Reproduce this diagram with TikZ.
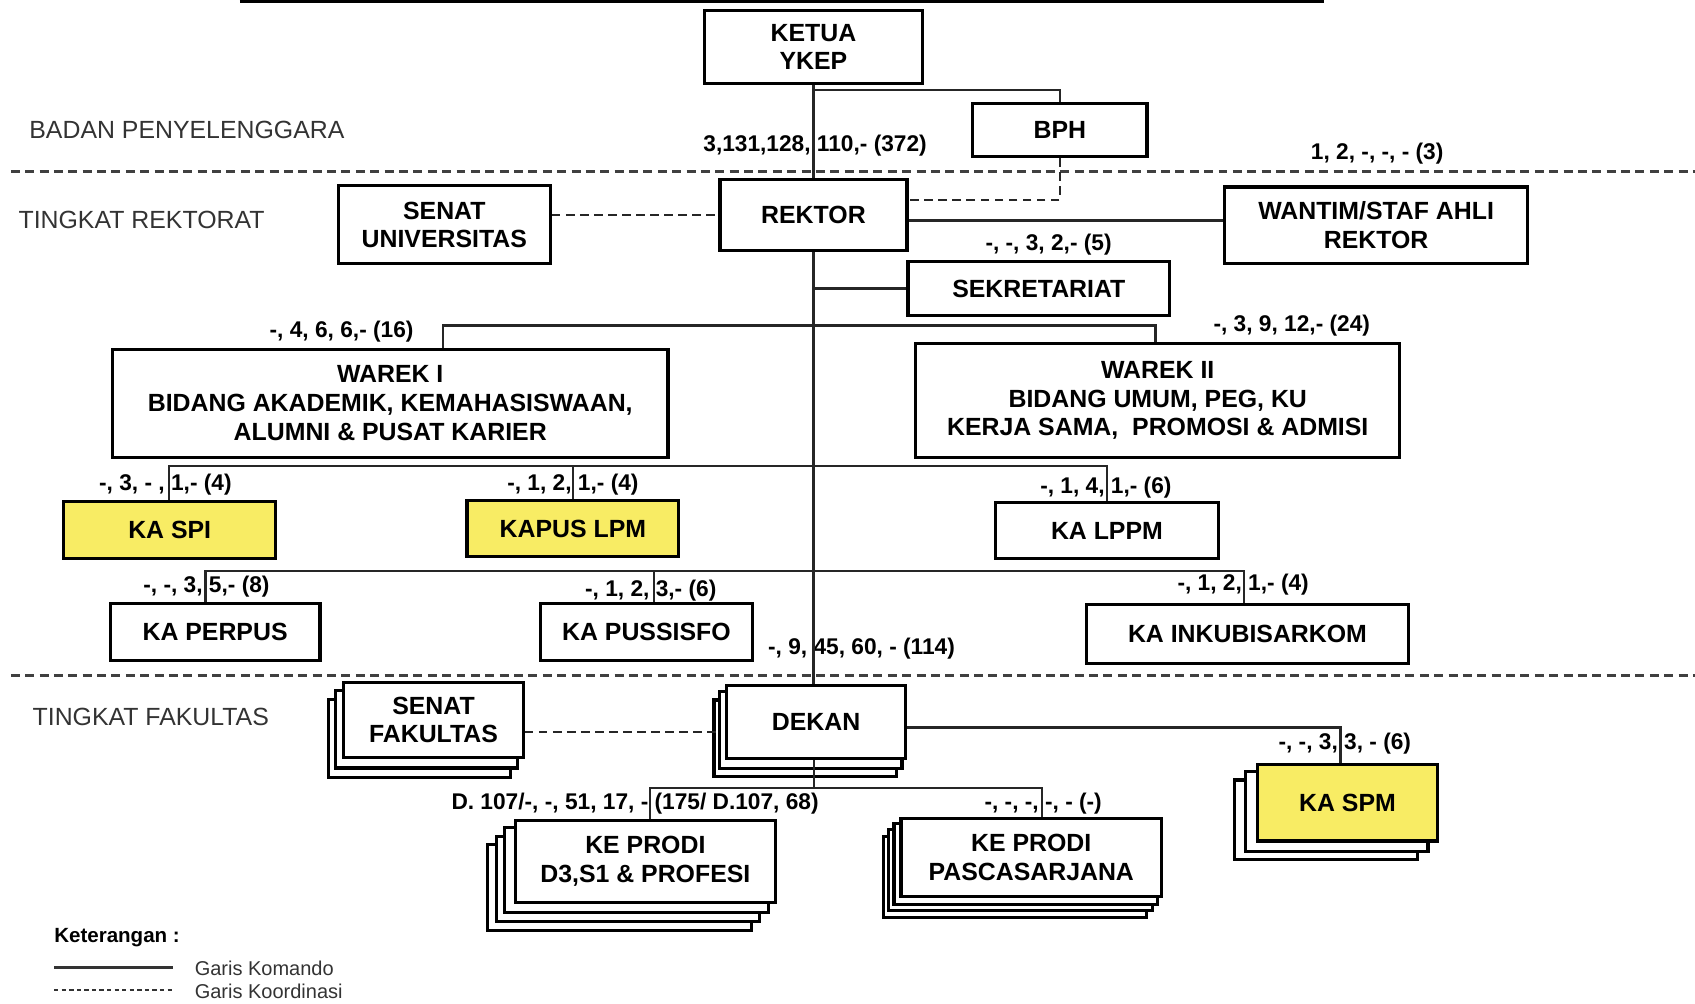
\documentclass[tikz,border=0pt]{standalone}
\usepackage{fontspec}
\setmainfont{Liberation Sans}
\usetikzlibrary{backgrounds}
\definecolor{kuning}{RGB}{248,236,100}
\begin{document}
\begin{tikzpicture}[x=1pt,y=-1pt,
  box/.style={draw=black, line width=2.9pt, fill=white, inner sep=0pt, align=center,
              font=\fontsize{23}{26.5}\selectfont\bfseries},
  stk/.style={draw=black, line width=2.9pt, fill=white},
  num/.style={inner sep=0pt, font=\fontsize{21}{24}\selectfont\bfseries},
  lvl/.style={inner sep=0pt, anchor=west, text=black!80, font=\fontsize{23}{27}\selectfont},
  leg/.style={inner sep=0pt, anchor=west, text=black!80, font=\fontsize{18.5}{21}\selectfont},
  cmd/.style={draw=black!85, line width=2.1pt},
  koord/.style={draw=black!85, line width=2.2pt, dash pattern=on 8pt off 5pt},
  sepline/.style={draw=black!75, line width=2.6pt, dash pattern=on 8.3pt off 5pt}
]
\useasboundingbox (0,0) rectangle (1568,928);

% top rule and level separators
\coordinate (t1) at (222,1.5); \coordinate (t2) at (1225,1.5);
\draw[line width=3pt] (t1) -- (t2);
\coordinate (s1a) at (10,159); \coordinate (s1b) at (1568,159);
\coordinate (s2a) at (10,625); \coordinate (s2b) at (1568,625);
\draw[sepline] (s1a) -- (s1b);
\draw[sepline] (s2a) -- (s2b);

% level labels
\node[lvl] (badan) at (27,120) {BADAN PENYELENGGARA};
\node[lvl] (trek) at (17,203) {TINGKAT REKTORAT};
\node[lvl] (tfak) at (30,663) {TINGKAT FAKULTAS};

% boxes
\node[box, minimum width=202pt, minimum height=68pt] (ketua) at (752.5,43.5) {KETUA\\YKEP};
\node[box, minimum width=161pt, minimum height=49pt] (bph) at (980.5,120.5) {BPH};
\node[box, minimum width=173pt, minimum height=66pt] (rektor) at (752.5,199) {REKTOR};
\node[box, minimum width=196pt, minimum height=72pt] (senatu) at (411,208) {SENAT\\UNIVERSITAS};
\node[box, minimum width=280pt, minimum height=71pt] (wantim) at (1273,208.5) {WANTIM/STAF AHLI\\REKTOR};
\node[box, minimum width=242pt, minimum height=50pt] (sekre) at (961,267) {SEKRETARIAT};
\node[box, minimum width=514pt, minimum height=100pt] (warek1) at (361,373) {WAREK I\\BIDANG AKADEMIK, KEMAHASISWAAN,\\ALUMNI \& PUSAT KARIER};
\node[box, minimum width=448pt, minimum height=105pt] (warek2) at (1071,370.5) {WAREK II\\BIDANG UMUM, PEG, KU\\KERJA SAMA,\ \ PROMOSI \& ADMISI};
\node[box, fill=kuning, minimum width=196pt, minimum height=53pt] (kaspi) at (157,490.5) {KA SPI};
\node[box, fill=kuning, minimum width=196pt, minimum height=52pt] (kapus) at (530,489) {KAPUS LPM};
\node[box, minimum width=206pt, minimum height=52pt] (kalppm) at (1024,491) {KA LPPM};
\node[box, minimum width=194pt, minimum height=53pt] (kaperpus) at (199,584.5) {KA PERPUS};
\node[box, minimum width=196pt, minimum height=53pt] (kapussisfo) at (598,584.5) {KA PUSSISFO};
\node[box, minimum width=298pt, minimum height=55pt] (kainkub) at (1154,586.5) {KA INKUBISARKOM};
\node[box, minimum width=166pt, minimum height=69pt] (senatf) at (401,666) {SENAT\\FAKULTAS};
\node[box, minimum width=166pt, minimum height=68pt] (dekan) at (755,668) {DEKAN};
\node[box, minimum width=241pt, minimum height=76pt] (prodi1) at (597,797) {KE PRODI\\D3,S1 \& PROFESI};
\node[box, minimum width=241pt, minimum height=72pt] (prodi2) at (954,793) {KE PRODI\\PASCASARJANA};
\node[box, fill=kuning, minimum width=166pt, minimum height=71pt] (kaspm) at (1246.5,742.5) {KA SPM};

% stacked copies behind
\begin{scope}[on background layer]
\foreach \i in {2,1}{
  \draw[stk] ([shift={(-6.5*\i,8.5*\i)}]senatf.south west) rectangle ([shift={(-6.5*\i,8.5*\i)}]senatf.north east);
  \draw[stk] ([shift={(-5*\i,7.5*\i)}]dekan.south west) rectangle ([shift={(-5*\i,7.5*\i)}]dekan.north east);
  \draw[stk] ([shift={(-10*\i,8*\i)}]kaspm.south west) rectangle ([shift={(-10*\i,8*\i)}]kaspm.north east);
}
\foreach \i in {3,2,1}{
  \draw[stk] ([shift={(-8*\i,8*\i)}]prodi1.south west) rectangle ([shift={(-8*\i,8*\i)}]prodi1.north east);
  \draw[stk] ([shift={(-5*\i,6*\i)}]prodi2.south west) rectangle ([shift={(-5*\i,6*\i)}]prodi2.north east);
}
\end{scope}

% number labels
\node[num] (n372) at (754,135) {3,131,128, 110,- (372)};
\node[num] (n3) at (1274,142) {1, 2, -, -, - (3)};
\node[num] (n5) at (970,226) {-, -, 3, 2,- (5)};
\node[num] (n16) at (316,307) {-, 4, 6, 6,- (16)};
\node[num] (n24) at (1195,301) {-, 3, 9, 12,- (24)};
\node[num] (nspi) at (153,448) {-, 3, - , 1,- (4)};
\node[num] (nkapus) at (530,448) {-, 1, 2, 1,- (4)};
\node[num] (nlppm) at (1023,451) {-, 1, 4, 1,- (6)};
\node[num] (nperpus) at (191,543) {-, -, 3, 5,- (8)};
\node[num] (npussisfo) at (602,546) {-, 1, 2, 3,- (6)};
\node[num] (ninkub) at (1150,541) {-, 1, 2, 1,- (4)};
\node[num] (n114) at (797,600) {-, 9, 45, 60, - (114)};
\node[num] (nspm) at (1244,688) {-, -, 3, 3, - (6)};
\node[num] (nprodi1) at (587.5,743) {D. 107/-, -, 51, 17, - (175/ D.107, 68)};
\node[num] (nprodi2) at (965,743) {-, -, -, -, - (-)};

% command lines
\coordinate (jb) at (752.5,83);
\draw[cmd] (ketua.south) -- (rektor.north);
\draw[cmd] (jb) -| (bph.north);
\coordinate (jwt) at (1000,204);
\draw[cmd] (rektor.east |- jwt) -- (wantim.west |- jwt);
\draw[cmd] (rektor.south) -- (rektor.south |- dekan.north);
\draw[cmd] (rektor.south |- sekre.west) -- (sekre.west);
\coordinate (jw1) at (410,301); \coordinate (jw2) at (1069,301);
\draw[cmd] (jw1 |- warek1.north) -- (jw1) -- (jw2) -- (jw2 |- warek2.north);
\coordinate (js1) at (156,431); \coordinate (js2) at (530,431); \coordinate (js3) at (1024,431);
\draw[cmd] (js1 |- kaspi.north) -- (js1) -- (js3) -- (js3 |- kalppm.north);
\draw[cmd] (js2) -- (js2 |- kapus.north);
\coordinate (jp1) at (190,528); \coordinate (jp2) at (605,528); \coordinate (jp3) at (1151,528);
\draw[cmd] (jp1 |- kaperpus.north) -- (jp1) -- (jp3) -- (jp3 |- kainkub.north);
\draw[cmd] (jp2) -- (jp2 |- kapussisfo.north);
\coordinate (jd) at (1240,673);
\draw[cmd] (dekan.east |- jd) -- (jd) -- (jd |- kaspm.north);
\coordinate (jq0) at (753,729); \coordinate (jq1) at (601,729); \coordinate (jq2) at (964,729);
\draw[cmd] (jq0 |- dekan.south) -- (jq0);
\draw[cmd] (jq1 |- prodi1.north) -- (jq1) -- (jq2) -- (jq2 |- prodi2.north);

% coordination lines
\coordinate (jbr) at (980.5,185);
\draw[koord] (bph.south) -- (jbr) -- (rektor.east |- jbr);
\draw[koord] (senatu.east |- rektor.west) -- (rektor.west);
\coordinate (jf) at (662,677);
\draw[koord] (senatf.east |- jf) -- (jf);

% legend
\node[inner sep=0pt, anchor=west, font=\fontsize{19}{22}\selectfont\bfseries] (ket) at (50,867) {Keterangan :};
\coordinate (lg1a) at (50,895); \coordinate (lg1b) at (160,895);
\coordinate (lg2a) at (50,916); \coordinate (lg2b) at (160,916);
\draw[draw=black!80, line width=2pt] (lg1a) -- (lg1b);
\draw[draw=black!80, line width=2pt, dash pattern=on 4pt off 3pt] (lg2a) -- (lg2b);
\node[leg] (gkom) at (180,896) {Garis Komando};
\node[leg] (gkoor) at (180,917) {Garis Koordinasi};
\end{tikzpicture}
\end{document}
